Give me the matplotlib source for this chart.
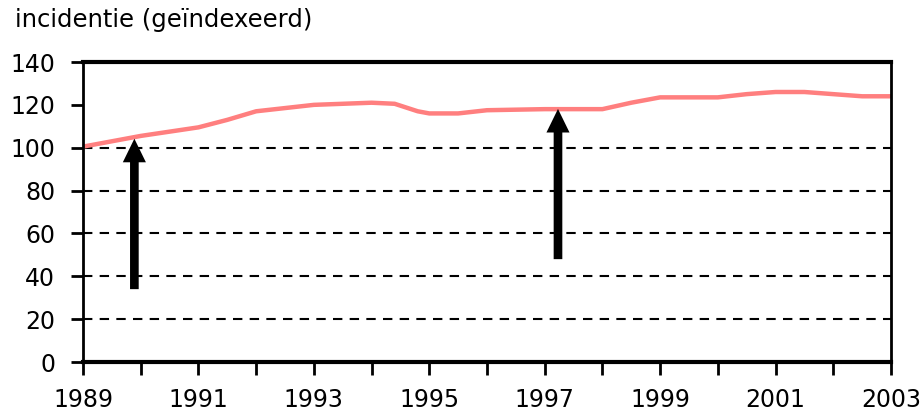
import matplotlib
matplotlib.use("Agg")
import matplotlib.pyplot as plt
import numpy as np

years = [1989.0, 1989.5, 1990.0, 1990.5, 1991.0, 1991.5, 1992.0, 1992.5, 1993.0,
         1993.5, 1994.0, 1994.4, 1994.8, 1995.0, 1995.5, 1996.0, 1997.0, 1998.0,
         1998.5, 1999.0, 2000.0, 2000.5, 2001.0, 2001.5, 2002.0, 2002.5, 2003.0]
incidence = [100.5, 103, 105.5, 107.5, 109.5, 113, 117, 118.5, 120,
             120.5, 121, 120.5, 117, 116, 116, 117.5, 118, 118,
             121, 123.5, 123.5, 125, 126, 126, 125, 124, 124]

arrow_x = [1989.89, 1997.23]
arrow_tail = [34.0, 48.0]
arrow_tip = [104.2, 118.1]

grid_levels = [20, 40, 60, 80, 100]
yticks = [0, 20, 40, 60, 80, 100, 120, 140]
xticks = list(range(1989, 2004))
xlabels = [str(y) if (y - 1989) % 2 == 0 else "" for y in xticks]

plt.rcParams['font.family'] = ['DejaVu Sans']

fig = plt.figure(figsize=(9.23, 4.16), dpi=100)
ax = fig.add_axes([83/923, 54/416, 808/923, 300/416])

for g in grid_levels:
    ax.axhline(g, color='black', lw=1.5, ls=(0, (4.5, 3.5)), zorder=1)

ax.plot(years, incidence, color='#FF7F7F', lw=3.2, zorder=2)

for x, t0, t1 in zip(arrow_x, arrow_tail, arrow_tip):
    ax.arrow(x, t0, 0, t1 - t0, width=0.15, head_width=0.40, head_length=11,
             length_includes_head=True, color='black', lw=0, zorder=3)

ax.set_xlim(1989, 2003)
ax.set_ylim(0, 140)
ax.set_yticks(yticks)
ax.set_xticks(xticks)
ax.set_xticklabels(xlabels)
ax.tick_params(axis='both', direction='out', length=9, width=2, labelsize=17, colors='black')
ax.tick_params(axis='x', pad=10)
ax.tick_params(axis='y', pad=11)

for s in ['left', 'right']:
    ax.spines[s].set_linewidth(2)
ax.spines['top'].set_linewidth(3)
ax.spines['bottom'].set_linewidth(3)

fig.text(15/923, 1 - 20/416, 'incidentie (geïndexeerd)', fontsize=17.5, va='center', ha='left')

fig.savefig('out.png', dpi=100)
